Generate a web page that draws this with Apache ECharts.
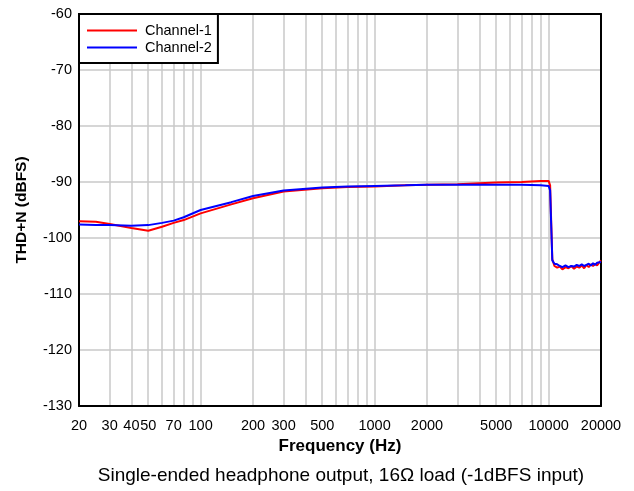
<!DOCTYPE html>
<html>
<head>
<meta charset="utf-8">
<script src="https://cdn.jsdelivr.net/npm/echarts@6/dist/echarts.min.js"></script>
<style>
  html, body { margin: 0; padding: 0; background: #fff; }
  #chart { width: 634px; height: 491px; }
</style>
</head>
<body>
<div id="chart"></div>
<script>
// frequencies (Hz) of the plotted points
const freqs = [20, 25, 30, 40, 50, 60, 70, 80, 100, 150, 200, 300, 500, 700, 1000, 1500, 2000, 3000, 5000, 7000, 9000, 10000, 10200, 10500, 10800, 11200, 11600, 12000, 12500, 13000, 13500, 14000, 14500, 15000, 15500, 16000, 16500, 17000, 17500, 18000, 18500, 19000, 19500, 20000];
const channel1 = [-97.0, -97.1, -97.5, -98.2, -98.7, -98.0, -97.3, -96.8, -95.6, -94.0, -92.9, -91.7, -91.1, -90.9, -90.8, -90.6, -90.5, -90.4, -90.1, -90.0, -89.8, -89.8, -90.6, -103.8, -105.0, -105.3, -105.1, -105.6, -105.2, -105.4, -105.0, -105.5, -105.1, -105.3, -104.9, -105.4, -104.8, -105.2, -104.7, -105.0, -104.6, -104.9, -104.4, -104.0];
const channel2 = [-97.6, -97.7, -97.7, -97.8, -97.7, -97.3, -96.9, -96.3, -95.0, -93.6, -92.5, -91.5, -91.0, -90.8, -90.7, -90.6, -90.5, -90.5, -90.5, -90.5, -90.6, -90.7, -91.5, -104.0, -104.6, -104.7, -105.0, -105.2, -104.9, -105.2, -105.0, -105.1, -104.8, -105.0, -104.7, -105.0, -104.8, -104.6, -104.9, -104.5, -104.8, -104.4, -104.7, -104.3];

const xLabels = [20, 30, 40, 50, 70, 100, 200, 300, 500, 1000, 2000, 5000, 10000, 20000];
const xGrid = [20, 30, 40, 50, 60, 70, 80, 90, 100, 200, 300, 400, 500, 600, 700, 800, 900,
  1000, 2000, 3000, 4000, 5000, 6000, 7000, 8000, 9000, 10000, 20000];

const font = 'Liberation Sans, Arial, sans-serif';
const lg = v => Math.log10(v);

function toPoints(vals) {
  return freqs.map((f, i) => [lg(f), vals[i]]);
}

const frame = { show: true, lineStyle: { color: '#000', width: 2 } };
const gridLine = { show: true, showMinLine: false, showMaxLine: false, lineStyle: { color: '#c8c8c8', width: 1.5 } };

const chart = echarts.init(document.getElementById('chart'));

chart.setOption({
  animation: false,
  textStyle: { fontFamily: font },
  title: {
    text: 'Single-ended headphone output, 16Ω load (-1dBFS input)',
    left: 336, top: 461, textAlign: 'center',
    textStyle: { fontSize: 19, fontWeight: 'normal', color: '#000', fontFamily: font }
  },
  grid: { left: 79, right: 33, top: 14, bottom: 85 },
  legend: {
    left: 79, top: 14, orient: 'vertical', icon: 'rect',
    backgroundColor: '#fff', borderColor: '#000', borderWidth: 2, borderRadius: 0,
    padding: [9, 6, 8, 8], itemWidth: 50, itemHeight: 2, itemGap: 2,
    textStyle: { fontSize: 14.5, lineHeight: 15, color: '#000', fontFamily: font, padding: [0, 0, 0, 3] },
    data: ['Channel-1', 'Channel-2']
  },
  xAxis: [
    {
      type: 'value', min: lg(20), max: lg(20000),
      name: 'Frequency (Hz)', nameLocation: 'middle', nameGap: 27,
      nameTextStyle: { fontSize: 17, fontWeight: 'bold', color: '#000', fontFamily: font },
      axisLine: frame,
      axisTick: { show: false, customValues: xGrid.map(lg) },
      splitLine: gridLine,
      axisLabel: {
        customValues: xLabels.map(lg), fontSize: 14.5, color: '#000', margin: 12,
        formatter: v => String(Math.round(Math.pow(10, v)))
      }
    },
    {
      type: 'value', position: 'top', min: lg(20), max: lg(20000),
      axisLine: frame, axisTick: { show: false }, axisLabel: { show: false }, splitLine: { show: false }
    }
  ],
  yAxis: [
    {
      type: 'value', min: -130, max: -60, interval: 10,
      name: 'THD+N (dBFS)', nameLocation: 'middle', nameGap: 49, nameRotate: 90,
      nameTextStyle: { fontSize: 15.5, fontWeight: 'bold', color: '#000', fontFamily: font },
      axisLine: frame,
      axisTick: { show: false },
      splitLine: gridLine,
      axisLabel: { fontSize: 14.5, color: '#000', margin: 7 }
    },
    {
      type: 'value', position: 'right', min: -130, max: -60, interval: 10,
      axisLine: frame, axisTick: { show: false }, axisLabel: { show: false }, splitLine: { show: false }
    }
  ],
  series: [
    {
      name: 'Channel-1', type: 'line', data: toPoints(channel1), symbol: 'none',
      lineStyle: { color: '#ff0000', width: 2 }, itemStyle: { color: '#ff0000' }
    },
    {
      name: 'Channel-2', type: 'line', data: toPoints(channel2), symbol: 'none',
      lineStyle: { color: '#0000ff', width: 2 }, itemStyle: { color: '#0000ff' }
    }
  ]
});
</script>
</body>
</html>
